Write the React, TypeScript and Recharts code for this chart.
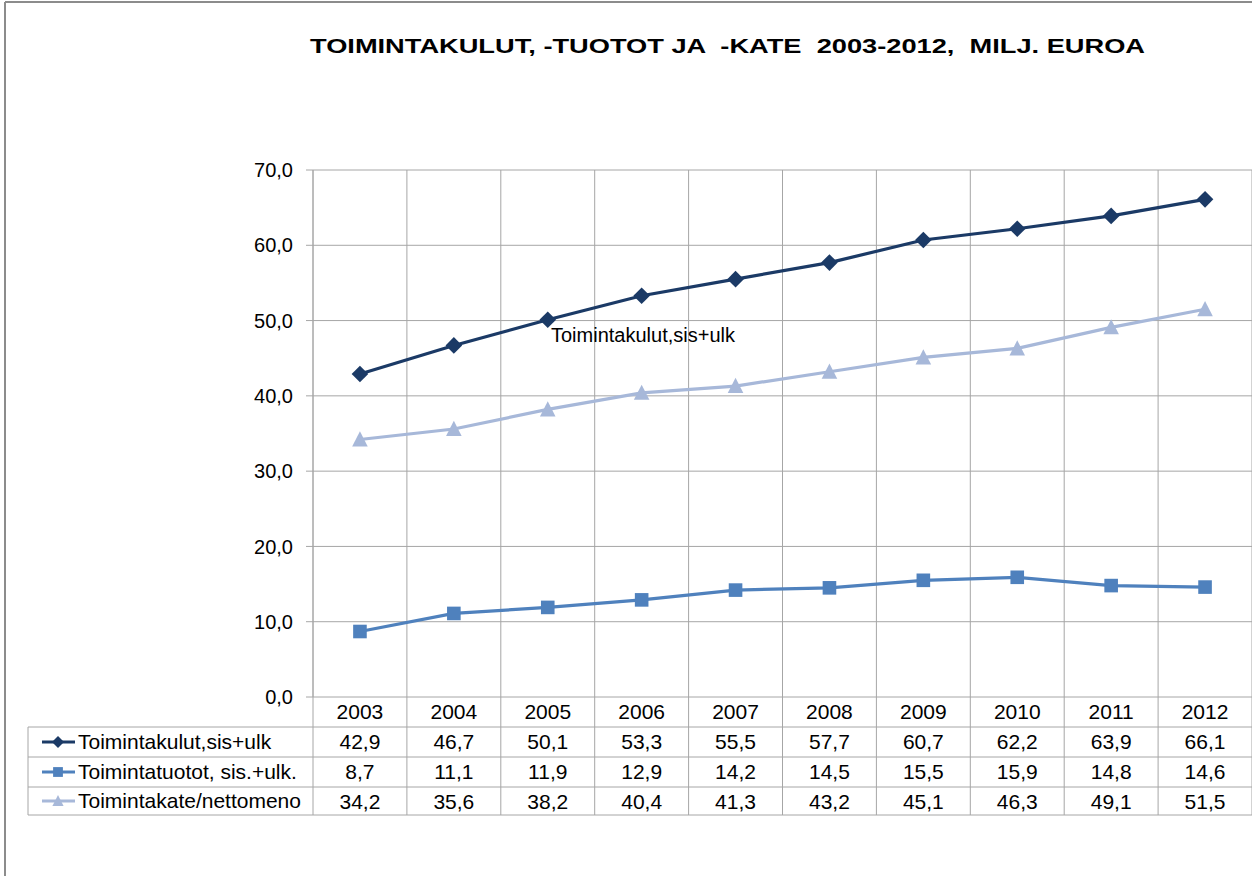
import React from 'react';
import { LineChart, Line, XAxis, YAxis, CartesianGrid } from 'recharts';

const years = ['2003', '2004', '2005', '2006', '2007', '2008', '2009', '2010', '2011', '2012'];
const kulut = [42.9, 46.7, 50.1, 53.3, 55.5, 57.7, 60.7, 62.2, 63.9, 66.1];
const tuotot = [8.7, 11.1, 11.9, 12.9, 14.2, 14.5, 15.5, 15.9, 14.8, 14.6];
const kate = [34.2, 35.6, 38.2, 40.4, 41.3, 43.2, 45.1, 46.3, 49.1, 51.5];
const yTicks = [0, 10, 20, 30, 40, 50, 60, 70];

const seriesNames = ['Toimintakulut,sis+ulk', 'Toimintatuotot, sis.+ulk.', 'Toimintakate/nettomeno'];
const seriesColors = ['#1B3A66', '#4F81BD', '#A7B8D9'];
const seriesValues = [kulut, tuotot, kate];

const data = years.map((y, i) => ({ year: y, kulut: kulut[i], tuotot: tuotot[i], kate: kate[i] }));

const W = 1252;
const H = 876;
const LEFT = 313;
const TOP = 170;
const XAXIS_H = 179;
const PLOT_W = W - LEFT;
const BAND = PLOT_W / years.length;
const GRID = '#A6A6A6';
const FONT = '"Liberation Sans", Arial, sans-serif';
const TFS = 21;

const fmt = (v: number) => v.toFixed(1).replace('.', ',');

const Diamond = (cx: number, cy: number, r: number, color: string, key?: any) => (
  <path key={key} d={`M${cx},${cy - r} L${cx + r},${cy} L${cx},${cy + r} L${cx - r},${cy} Z`} fill={color} />
);
const Square = (cx: number, cy: number, r: number, color: string, key?: any) => (
  <rect key={key} x={cx - r} y={cy - r} width={2 * r} height={2 * r} fill={color} />
);
const Triangle = (cx: number, cy: number, r: number, color: string, key?: any) => (
  <path key={key} d={`M${cx},${cy - r} L${cx + r * 0.95},${cy + r * 0.85} L${cx - r * 0.95},${cy + r * 0.85} Z`} fill={color} />
);
const markers = [Diamond, Square, Triangle];
const markerSizes = [8.3, 6.8, 8.2];

const rowTops = [727, 757, 787, 815];

const TableTick = (props: any) => {
  const { x, y, payload, index } = props;
  const i = index as number;
  return (
    <g>
      {i === 0 && <line x1={x - BAND / 2} x2={x - BAND / 2} y1={y} y2={rowTops[3]} stroke={GRID} strokeWidth={1} />}
      <line x1={x + BAND / 2} x2={x + BAND / 2} y1={y} y2={rowTops[3]} stroke={GRID} strokeWidth={1} />
      <text x={x} y={y + 22} textAnchor="middle" fontSize={TFS} fontFamily={FONT} fill="#000">
        {payload.value}
      </text>
      {seriesValues.map((vals, s) => (
        <text key={s} x={x} y={rowTops[s] + 22} textAnchor="middle" fontSize={TFS} fontFamily={FONT} fill="#000">
          {fmt(vals[i])}
        </text>
      ))}
    </g>
  );
};

const makeDot = (s: number) => (p: any) => markers[s](p.cx, p.cy, markerSizes[s], seriesColors[s], p.index);

export default function App() {
  return (
    <div style={{ position: 'absolute', left: 0, top: 0, width: W, height: H, background: '#fff', overflow: 'hidden' }}>
      <LineChart width={W} height={H} data={data} margin={{ top: TOP, right: 0, left: 0, bottom: 0 }}>
        <CartesianGrid
          stroke={GRID}
          strokeWidth={1}
          verticalCoordinatesGenerator={({ offset }: any) =>
            Array.from({ length: years.length + 1 }, (_, k) => offset.left + (k * offset.width) / years.length)
          }
        />
        <XAxis
          dataKey="year"
          scale="band"
          height={XAXIS_H}
          axisLine={false}
          tickLine={false}
          tickSize={0}
          tickMargin={0}
          interval={0}
          tick={TableTick}
        />
        <YAxis
          width={LEFT}
          domain={[0, 70]}
          ticks={yTicks}
          interval={0}
          tickFormatter={fmt}
          axisLine={{ stroke: GRID }}
          tickLine={{ stroke: GRID }}
          tickSize={7}
          tickMargin={13}
          tick={{ fontSize: 20, fontFamily: FONT, fill: '#000' }}
        />
        <Line dataKey="kulut" stroke={seriesColors[0]} strokeWidth={3.2} dot={makeDot(0)} isAnimationActive={false} />
        <Line dataKey="tuotot" stroke={seriesColors[1]} strokeWidth={3.2} dot={makeDot(1)} isAnimationActive={false} />
        <Line dataKey="kate" stroke={seriesColors[2]} strokeWidth={3.2} dot={makeDot(2)} isAnimationActive={false} />
      </LineChart>
      <svg width={W} height={H} style={{ position: 'absolute', left: 0, top: 0, pointerEvents: 'none' }}>
        <line x1={5} x2={5} y1={2} y2={H} stroke="#8C8C8C" strokeWidth={2} />
        <line x1={5} x2={W} y1={2} y2={2} stroke="#8C8C8C" strokeWidth={2} />
        <text
          x={310}
          y={53}
          fontSize={21}
          fontWeight="bold"
          fontFamily={FONT}
          fill="#000"
          textLength={835}
          lengthAdjust="spacingAndGlyphs"
          style={{ whiteSpace: 'pre' }}
        >
          {'TOIMINTAKULUT, -TUOTOT JA  -KATE  2003-2012,  MILJ. EUROA'}
        </text>
        <text x={551} y={342} fontSize={20} fontFamily={FONT} fill="#000">
          Toimintakulut,sis+ulk
        </text>
        {rowTops.map((ry, k) => (
          <line key={k} x1={28} x2={W} y1={ry} y2={ry} stroke={GRID} strokeWidth={1} />
        ))}
        <line x1={28} x2={28} y1={rowTops[0]} y2={rowTops[3]} stroke={GRID} strokeWidth={1} />
        {seriesNames.map((name, s) => {
          const cy = (rowTops[s] + rowTops[s + 1]) / 2;
          return (
            <g key={s}>
              <line x1={42} x2={75} y1={cy} y2={cy} stroke={seriesColors[s]} strokeWidth={3} />
              {markers[s](58, cy, markerSizes[s] * 0.72, seriesColors[s])}
              <text x={78} y={cy + 7} fontSize={TFS} fontFamily={FONT} fill="#000">
                {name}
              </text>
            </g>
          );
        })}
      </svg>
    </div>
  );
}
